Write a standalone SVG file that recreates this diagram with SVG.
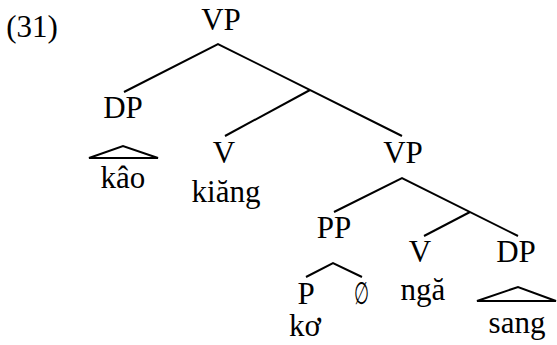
<svg xmlns="http://www.w3.org/2000/svg" width="557" height="345" viewBox="0 0 557 345">
<style>
.e{stroke:#000;stroke-width:2;fill:none}
</style>
<rect width="557" height="345" fill="#fff"/>
<g font-family="Liberation Serif, Times New Roman, serif" font-size="31" fill="#000" text-anchor="middle">
<text x="32" y="37">(31)</text>
<g id="vp1"><text x="221" y="30">VP</text></g>
<g id="dp1"><text x="123" y="118">DP</text></g>
<g id="kao"><text x="123" y="188">kâo</text></g>
<g id="v1"><text x="224" y="163">V</text></g>
<g id="kiang"><text x="226" y="202">kiăng</text></g>
<g id="vp2"><text x="403" y="163">VP</text></g>
<g id="pp"><text x="334" y="238">PP</text></g>
<g id="v2"><text x="420" y="262">V</text></g>
<g id="dp2"><text x="516" y="262">DP</text></g>
<g id="p"><text x="306" y="304">P</text></g>
<g id="null"><text x="361" y="304" textLength="15" lengthAdjust="spacingAndGlyphs">∅</text></g>
<g id="nga"><text x="423" y="300">ngă</text></g>
<g id="ko"><text x="305" y="336">kơ</text></g>
<g id="sang"><text x="517" y="333">sang</text></g>
</g>
<g id="connectors" class="e">
<path d="M124,92 L218,44 L402,136"/>
<path d="M225,136 L310,90"/>
<path d="M89,158 L123,146 L158,158 Z"/>
<path d="M334,212 L402,178 L518,236"/>
<path d="M424,236 L470,212"/>
<path d="M306,277 L333,263 L362,277"/>
<path d="M477,301 L518,287 L556,301 Z"/>
</g>
</svg>
